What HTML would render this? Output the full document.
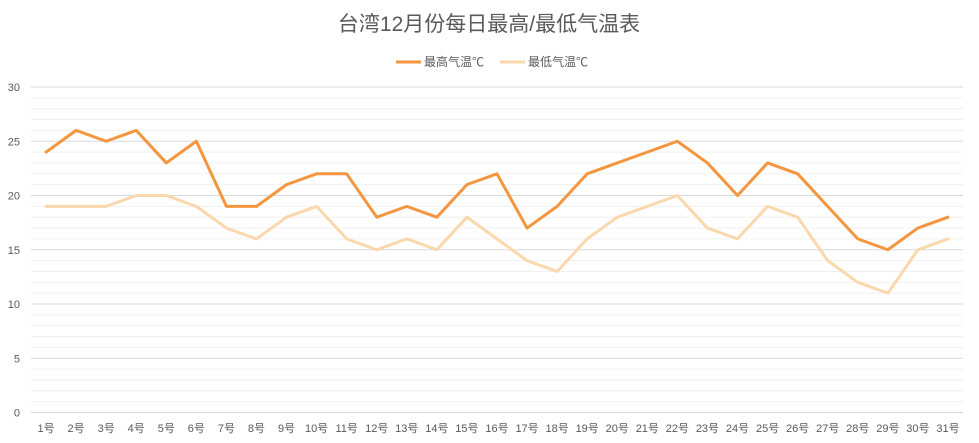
<!DOCTYPE html>
<html><head><meta charset="utf-8">
<style>
body{margin:0;background:#fff;}
svg{display:block;font-family:"Liberation Sans","Noto Sans CJK SC",sans-serif;}
</style></head>
<body>
<svg id="chart" width="979" height="443">
<text x="489" y="31" text-anchor="middle" font-size="21" fill="#595959">台湾12月份每日最高/最低气温表</text>
<g>
<g><line x1="396" y1="62" x2="421" y2="62" stroke="#F4963F" stroke-width="3"/><text x="424" y="66" font-size="12" fill="#595959">最高气温℃</text></g>
<g><line x1="500" y1="62" x2="525" y2="62" stroke="#FAD7AC" stroke-width="3"/><text x="528" y="66" font-size="12" fill="#595959">最低气温℃</text></g>
</g>
<g id="grid"></g>
<g id="ylab"></g>
<g id="xlab"></g>
<g id="series"></g>
</svg>
<script>
const categories = Array.from({length:31},(_,i)=>(i+1)+'号');
const highTemps = [24,26,25,26,23,25,19,19,21,22,22,18,19,18,21,22,17,19,22,23,24,25,23,20,23,22,19,16,15,17,18];
const lowTemps = [19,19,19,20,20,19,17,16,18,19,16,15,16,15,18,16,14,13,16,18,19,20,17,16,19,18,14,12,11,15,16];
const yTicks = [0,5,10,15,20,25,30];

const L=31,R=963,Y0=412.5,Y30=87;
const NS='http://www.w3.org/2000/svg';
const step=(R-L)/categories.length;
const xs=i=>L+step*(i+0.5);
const ys=v=>Y0-(Y0-Y30)*v/30;
function mk(t,a,p){const e=document.createElementNS(NS,t);for(const k in a)e.setAttribute(k,a[k]);p.appendChild(e);return e;}
const grid=document.getElementById('grid');
for(let v=0;v<=30;v++){
  const ln=mk('line',{x1:L,x2:R,y1:ys(v),y2:ys(v),stroke:v%5===0?'#D9D9D9':'#F0F0F0','stroke-width':1},grid);
  
  
}
const ylab=document.getElementById('ylab');
yTicks.forEach(v=>{
  const t=mk('text',{x:20,y:ys(v)+4,'text-anchor':'end','font-size':11,fill:'#595959'},ylab);
  t.textContent=v;
  
  
});
const xlab=document.getElementById('xlab');
categories.forEach((c,i)=>{
  const t=mk('text',{x:xs(i),y:432,'text-anchor':'middle','font-size':11,fill:'#595959'},xlab);
  t.textContent=c;
  
  
});
const ser=document.getElementById('series');
function line(data,color,name){
  const p=mk('polyline',{points:data.map((v,i)=>xs(i)+','+ys(v)).join(' '),fill:'none',stroke:color,'stroke-width':3,'stroke-linejoin':'round','stroke-linecap':'round'},ser);
  
  
}
line(lowTemps,'#FAD7AC','low-temp-line');
line(highTemps,'#F4963F','high-temp-line');
</script>
</body></html>
